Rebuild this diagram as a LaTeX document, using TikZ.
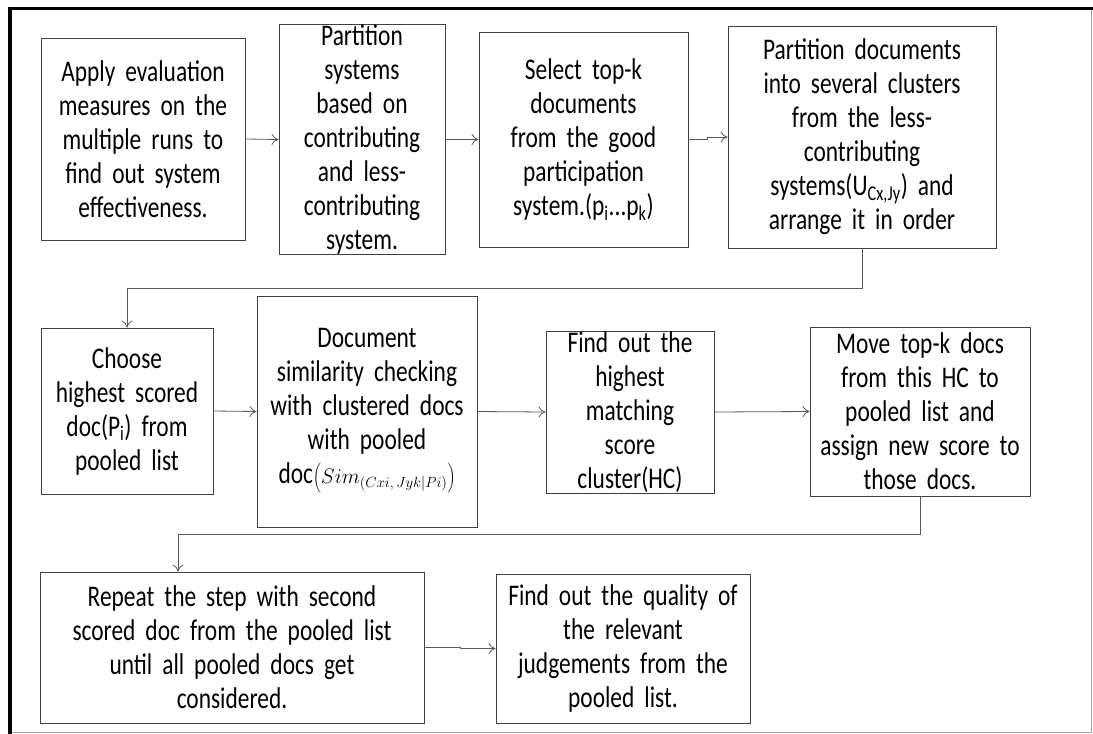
\documentclass[tikz,border=0pt]{standalone}
\usepackage{fix-cm}
\usepackage{fontspec}
\setmainfont{Carlito}[FakeStretch=0.78]
\usetikzlibrary{arrows.meta}

\begin{document}
\begin{tikzpicture}[
    x=1pt, y=-1pt,
    box/.style={rectangle, draw=black!75, line width=0.9pt, inner xsep=2pt, inner ysep=0pt, align=center, font=\fontsize{30}{34}\selectfont},
    arrow/.style={-{To[length=7pt,width=11pt]}, line width=0.8pt, draw=black!65}
]
    \useasboundingbox (0,0) rectangle (1093,734);

    % page frame
    \draw[black!35, line width=0.6pt] (1091,7) -- (1091,732) -- (10,732);
    \draw[black, line width=3.5pt] (10,734) -- (10,8.5) -- (1093,8.5);

    \node (eval) at (143, 139) [box, text width=200pt, minimum height=202pt] {Apply evaluation\\measures on the\\multiple runs to\\find out system\\effectiveness.};
    \node (partsys) at (362, 139.5) [box, text width=162pt, minimum height=227pt] {Partition\\systems\\based on\\contributing\\and less-\\contributing\\system.};
    \node (topk) at (583.5, 139.5) [box, text width=205pt, minimum height=215pt] {Select top-k\\documents\\from the good\\participation\\system.(p\textsubscript{i}...p\textsubscript{k})};
    \node (partdoc) at (862, 137) [box, text width=264pt, minimum height=222pt] {Partition documents\\into several clusters\\from the less-\\contributing\\systems(U\textsubscript{Cx,Jy}) and\\arrange it in order};

    \node (choose) at (127, 411) [box, text width=168pt, minimum height=166pt] {Choose\\highest scored\\doc(P\textsubscript{i}) from\\pooled list};
    \node (simcheck) at (367, 411.5) [box, text width=216pt, minimum height=231pt] {Document\\similarity checking\\with clustered docs\\with pooled\\doc{\fontsize{21}{34}\selectfont$\left(\vrule width 0pt height 20pt depth 11pt Sim_{(Cxi,\,Jyk|Pi)}\right)$}};
    \node (hc) at (630, 412) [box, text width=164pt, minimum height=162pt] {Find out the\\highest\\matching\\score\\cluster(HC)};
    \node (move) at (920, 411.5) [box, text width=216pt, minimum height=169pt] {Move top-k docs\\from this HC to\\pooled list and\\assign new score to\\those docs.};

    \node (repeat) at (232, 647.5) [box, text width=380pt, minimum height=151pt] {Repeat the step with second\\scored doc from the pooled list\\until all pooled docs get\\considered.};
    \node (quality) at (623, 648.5) [box, text width=250pt, minimum height=149pt] {Find out the quality of\\the relevant\\judgements from the\\pooled list.};

    \draw[arrow] (eval.east) -- (partsys.west);
    \draw[arrow] (partsys.east) -- (topk.west);
    \draw[arrow] (topk.east) -- ++(19,0) |- (partdoc.west);

    \draw[arrow] (partdoc.south) -- ++(0,40) -| (choose.north);

    \draw[arrow] (choose.east) -- (simcheck.west);
    \draw[arrow] (simcheck.east) -- (hc.west);
    \draw[arrow] (hc.east) -- (move.west);

    \draw[arrow] (move.south) -- ++(0,38) -| ([xshift=-54pt]repeat.north);

    \draw[arrow] (repeat.east) -- ++(36,0) |- (quality.west);

\end{tikzpicture}
\end{document}
